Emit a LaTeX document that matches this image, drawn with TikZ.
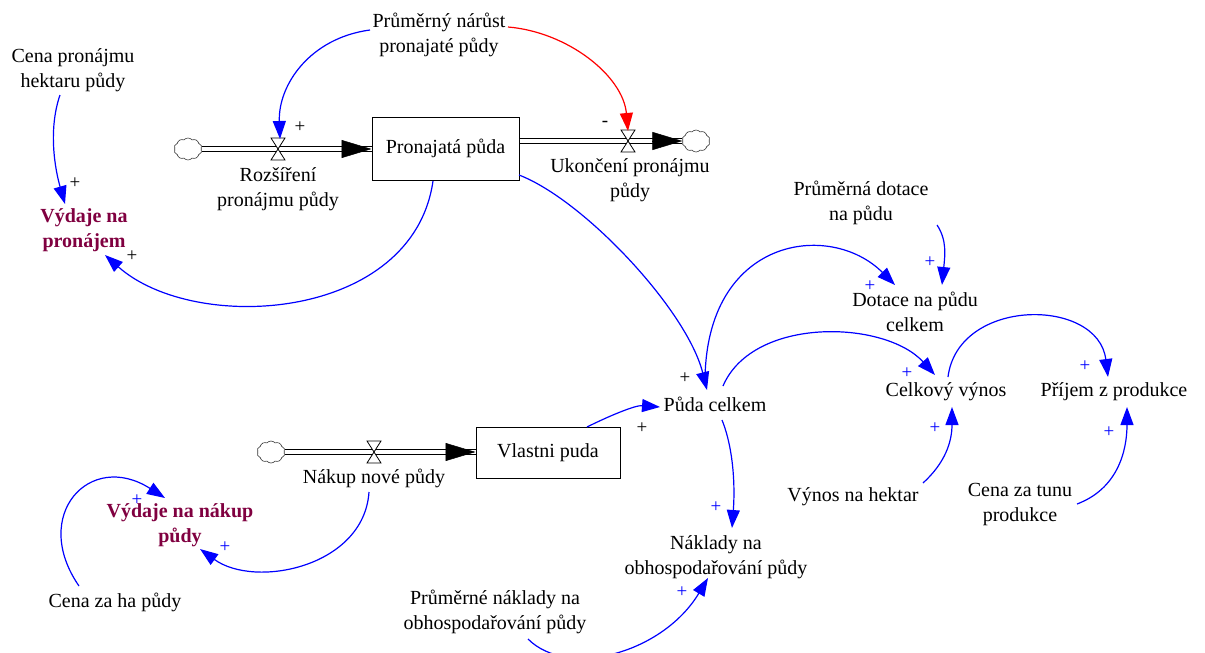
\documentclass[tikz,border=0pt]{standalone}
\usepackage{fontspec}
\setmainfont{Liberation Serif}
\usetikzlibrary{arrows.meta,shapes.symbols,calc}
\definecolor{auxpurple}{RGB}{128,0,64}
\definecolor{linkblue}{RGB}{0,0,255}
\definecolor{linkred}{RGB}{255,0,0}
\begin{document}
\begin{tikzpicture}[x=1pt,y=-1pt,
  lbl/.style={font=\fontsize{20}{25}\selectfont, align=center, inner sep=0pt},
  keyvar/.style={font=\fontsize{20}{25}\selectfont\bfseries, text=auxpurple, align=center, inner sep=0pt},
  stock/.style={draw, line width=1pt, font=\fontsize{20}{25}\selectfont, inner sep=0pt},
  sign/.style={font=\fontsize{19}{19}\selectfont, inner sep=0pt},
  link/.style={draw=linkblue, line width=1.2pt, -{Triangle[length=18pt,width=13pt]}},
  neglink/.style={link, draw=linkred},
  pipe/.style={draw, double, double distance=3.5pt, line width=1pt},
  flowtip/.style={line width=0.5pt, -{Triangle[length=30pt,width=18pt]}},
  sink/.style={cloud, cloud puffs=10, cloud puff arc=100, aspect=1.3, draw=black!80, line width=0.6pt, inner sep=0pt, minimum width=28pt, minimum height=22pt},
  valve/.pic={\draw[fill=white, line width=0.8pt] (-7,-11) -- (7,-11) -- (-7,11) -- (7,11) -- cycle;}
]
\useasboundingbox (0,0) rectangle (1205,653);

% ---- stocks, sources/sinks and flow valves
\node[stock, minimum width=147pt, minimum height=63pt] (box1) at (445.5,148.5) {Pronajatá půda};
\node[stock, minimum width=144pt, minimum height=51pt] (box2) at (548,452.5) {Vlastni puda};
\node[sink] (c1) at (188,149) {};
\node[sink] (c2) at (696,141) {};
\node[sink] (c3) at (271,452) {};
\coordinate (v1) at (278,149);
\coordinate (v2) at (628,141);
\coordinate (v3) at (374,452);

% ---- pipes
\draw[pipe] (c1.east |- v1) -- (box1.west |- v1);
\draw[flowtip] ($(box1.west |- v1)+(-30,0)$) -- (box1.west |- v1);
\draw[pipe] (box1.east |- v2) -- (c2.west |- v2);
\draw[flowtip] ($(c2.west |- v2)+(-30,0)$) -- (c2.west |- v2);
\draw[pipe] (c3.east |- v3) -- (box2.west |- v3);
\draw[flowtip] ($(box2.west |- v3)+(-30,0)$) -- (box2.west |- v3);
\pic at (v1) {valve};
\pic at (v2) {valve};
\pic at (v3) {valve};

% ---- variables
\node[lbl] (v1lab) at (278,189) {Rozšíření\\pronájmu půdy};
\node[lbl] (v2lab) at (630,180) {Ukončení pronájmu\\půdy};
\node[lbl] (v3lab) at (374,478) {Nákup nové půdy};
\node[lbl] (cpr) at (73,70) {Cena pronájmu\\hektaru půdy};
\node[keyvar] (vpr) at (84,230) {Výdaje na\\pronájem};
\node[lbl] (pnp) at (439,35) {Průměrný nárůst\\pronajaté půdy};
\node[lbl] (pc) at (715,404) {Půda celkem};
\node[lbl] (pdn) at (861,203) {Průměrná dotace\\na půdu};
\node[lbl] (dpc) at (915,312) {Dotace na půdu\\celkem};
\node[lbl] (cv) at (946,392) {Celkový výnos};
\node[lbl] (pzp) at (1114,392) {Příjem z produkce};
\node[lbl] (vnh) at (853,497) {Výnos na hektar};
\node[lbl] (czt) at (1020,505) {Cena za tunu\\produkce};
\node[lbl] (nop) at (716,557) {Náklady na\\obhospodařování půdy};
\node[lbl] (pno) at (495,612) {Průměrné náklady na\\obhospodařování půdy};
\node[keyvar] (vnp) at (180,525) {Výdaje na nákup\\půdy};
\node[lbl] (czh) at (115,602) {Cena za ha půdy};

% ---- causal links
\draw[link] ($(pnp)+(-69,-5)$) .. controls +(-60,8) and +(-2,-54) .. ($(v1)+(2,-10)$);
\draw[neglink] ($(pnp)+(69,-8)$) .. controls +(60,5) and +(-5,-55) .. ($(v2)+(0,-10)$);
\draw[link] ($(cpr)+(-13,25)$) .. controls +(-12,35) and +(-10,-35) .. ($(vpr)+(-19,-26)$);
\draw[link] ($(box1)+(-12.5,32.5)$) .. controls +(-20,140) and +(90,80) .. ($(vpr)+(21,25)$);
\draw[link] ($(box1)+(73.5,26.5)$) .. controls +(65,25) and +(-20,-80) .. ($(pc)+(-8,-14)$);
\draw[link] ($(pc)+(-10,-22)$) .. controls +(0,-145) and +(-65,-65) .. ($(dpc)+(-20,-27)$);
\draw[link] ($(pdn)+(76,22)$) .. controls +(10,15) and +(3,-30) .. ($(dpc)+(27,-27)$);
\draw[link] ($(pc)+(8,-18)$) .. controls +(30,-70) and +(-50,-55) .. ($(cv)+(-11,-17)$);
\draw[link] ($(cv)+(2,-15)$) .. controls +(10,-80) and +(-10,-80) .. ($(pzp)+(-6,-15)$);
\draw[link] ($(vnh)+(70,-14)$) .. controls +(22,-20) and +(0,35) .. ($(cv)+(6,15)$);
\draw[link] ($(czt)+(57,-1)$) .. controls +(40,-15) and +(0,45) .. ($(pzp)+(13,15)$);
\draw[link] ($(box2)+(39,-25.5)$) .. controls +(20,-10) and +(-25,-2) .. ($(pc)+(-55,3)$);
\draw[link] ($(pc)+(7,16)$) .. controls +(12,30) and +(3,-40) .. ($(nop)+(16,-29)$);
\draw[link] ($(pno)+(33,27)$) .. controls +(40,40) and +(-45,75) .. ($(nop)+(-8,21)$);
\draw[link] ($(v3lab)+(-5,14)$) .. controls +(-5,75) and +(55,40) .. ($(vnp)+(20,24)$);
\draw[link] ($(czh)+(-36,-16)$) .. controls +(-49,-71) and +(-75,-48) .. ($(vnp)+(-15,-27)$);

% ---- link polarities
\node[sign] (p1) at (300,127) {+};
\node[sign] (m2) at (605,124) {-};
\node[sign] (p3) at (75,183) {+};
\node[sign] (p4) at (132,256) {+};
\node[sign] (p5) at (685,378) {+};
\node[sign] (p6) at (642,428) {+};
\node[sign, text=linkblue] (p7) at (716,507) {+};
\node[sign, text=linkblue] (p8) at (870,286) {+};
\node[sign, text=linkblue] (p9) at (930,262) {+};
\node[sign, text=linkblue] (p10) at (907,373) {+};
\node[sign, text=linkblue] (p11) at (1085,366) {+};
\node[sign, text=linkblue] (p12) at (935,428) {+};
\node[sign, text=linkblue] (p13) at (1109,432) {+};
\node[sign, text=linkblue] (p14) at (682,592) {+};
\node[sign, text=linkblue] (p15) at (225,547) {+};
\node[sign, text=linkblue] (p16) at (137,500) {+};
\end{tikzpicture}
\end{document}
